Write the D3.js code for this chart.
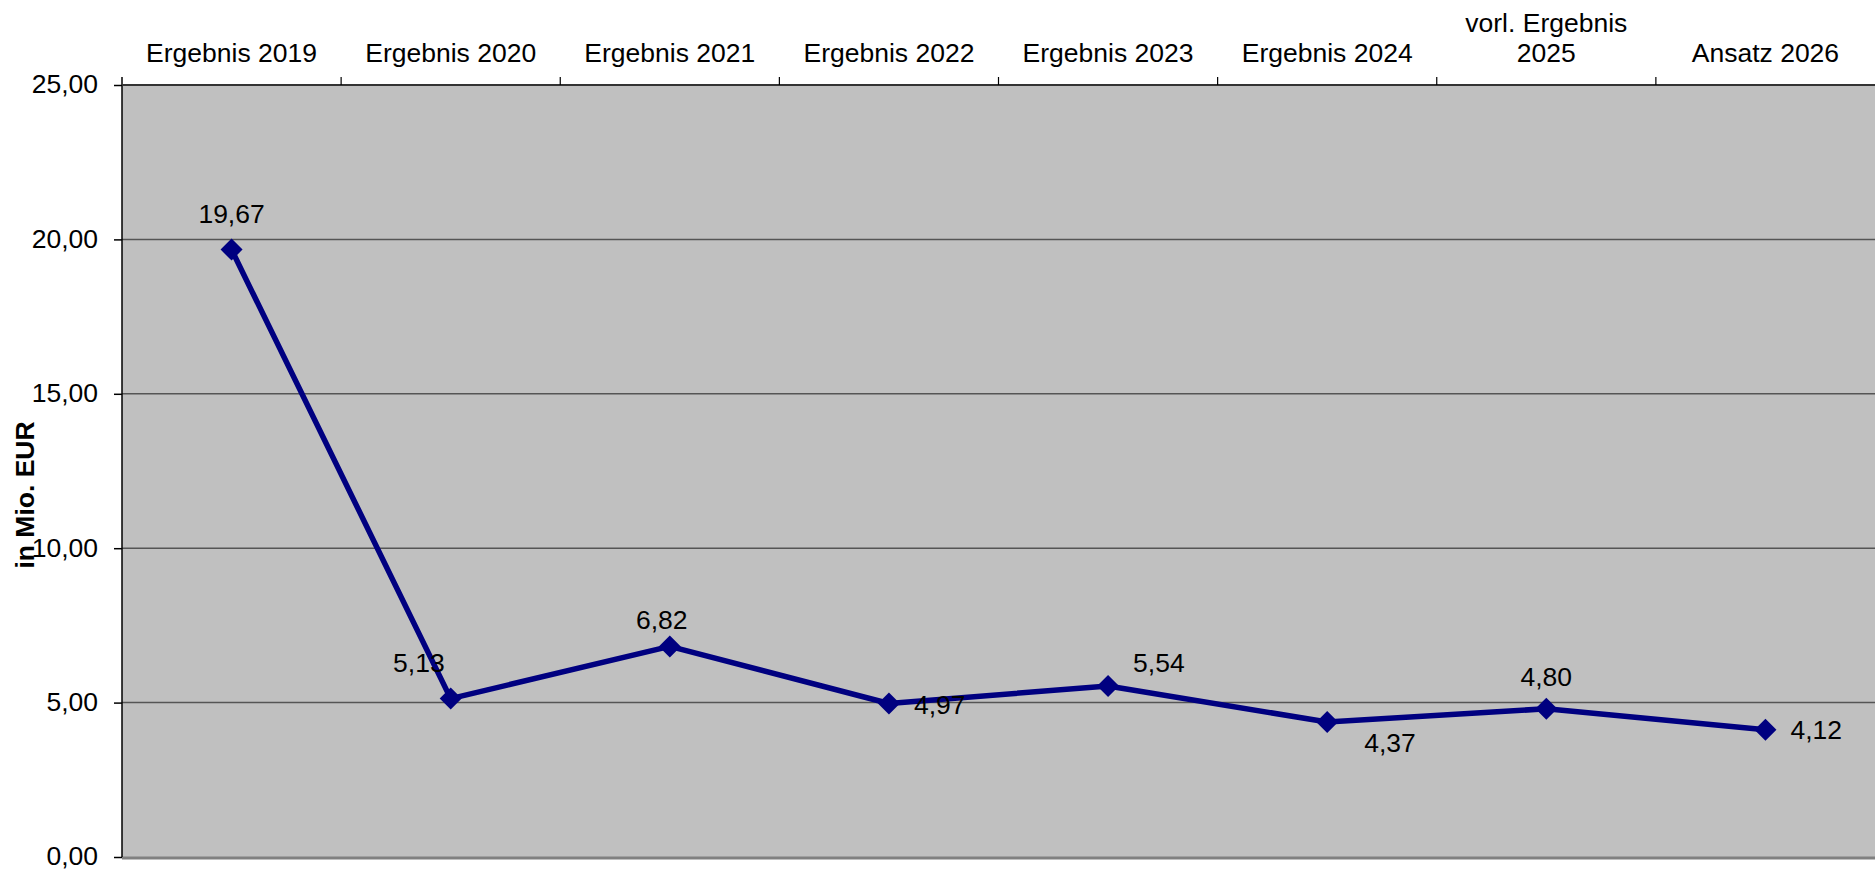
<!DOCTYPE html>
<html>
<head>
<meta charset="utf-8">
<script src="https://d3js.org/d3.v7.min.js"></script>
<style>
  body { margin: 0; background: #fff; }
  svg text { font-family: "Liberation Sans", Arial, sans-serif; }
</style>
</head>
<body>
<div id="chart"></div>
<script>
// Chart data
const categories = [
    ["Ergebnis 2019"], ["Ergebnis 2020"], ["Ergebnis 2021"], ["Ergebnis 2022"],
    ["Ergebnis 2023"], ["Ergebnis 2024"], ["vorl. Ergebnis", "2025"], ["Ansatz 2026"]
];
const values = [19.67, 5.13, 6.82, 4.97, 5.54, 4.37, 4.80, 4.12];
const yTicks = [0, 5, 10, 15, 20, 25];

// Label placement relative to each point: [dx, dy, anchor]
const labelPos = [
    [0, -27, 'middle'], [-6, -27, 'end'], [-8, -17, 'middle'], [25, 10, 'start'],
    [25, -14, 'start'], [37, 30, 'start'], [0, -23, 'middle'], [25, 9, 'start']
];

const width = 1875, height = 870;
const margin = { top: 85, right: 0, bottom: 13, left: 122 };
const fontSize = '26.5px';
const fmt = v => d3.format('.2f')(v).replace('.', ',');

const svg = d3.select('#chart').append('svg')
    .attr('width', width)
    .attr('height', height);

const x = d3.scaleBand()
    .domain(d3.range(categories.length))
    .range([margin.left, width - margin.right]);

const y = d3.scaleLinear()
    .domain([0, 25])
    .range([height - margin.bottom, margin.top]);

// Plot area background
svg.append('rect')
    .attr('x', margin.left)
    .attr('y', margin.top)
    .attr('width', width - margin.left - margin.right)
    .attr('height', y(0) - margin.top)
    .attr('fill', '#c0c0c0');

// Bottom shadow border
svg.append('line')
    .attr('x1', margin.left).attr('x2', width)
    .attr('y1', y(0) + 1).attr('y2', y(0) + 1)
    .attr('stroke', '#808080')
    .attr('stroke-width', 3);

// Gridlines
svg.append('g')
    .selectAll('line')
    .data(yTicks.filter(t => t > 0 && t < 25))
    .join('line')
    .attr('x1', margin.left).attr('x2', width)
    .attr('y1', d => y(d)).attr('y2', d => y(d))
    .attr('stroke', '#555')
    .attr('stroke-width', 1.5);

// Y axis
const yAxis = svg.append('g')
    .attr('transform', `translate(${margin.left},0)`)
    .call(d3.axisLeft(y).tickValues(yTicks).tickSize(8).tickPadding(16).tickFormat(fmt));
yAxis.select('.domain').remove();
yAxis.selectAll('.tick line').attr('stroke', '#000').attr('stroke-width', 1.5);
yAxis.selectAll('.tick text')
    .attr('font-size', fontSize)
    .attr('fill', '#000')
    .attr('dy', '0.3em')
    .attr('font-family', '"Liberation Sans", Arial, sans-serif');

svg.append('line')
    .attr('x1', margin.left).attr('x2', margin.left)
    .attr('y1', margin.top - 8).attr('y2', y(0))
    .attr('stroke', '#000')
    .attr('stroke-width', 1.5);

// Top category axis
svg.append('line')
    .attr('x1', margin.left).attr('x2', width)
    .attr('y1', margin.top).attr('y2', margin.top)
    .attr('stroke', '#333')
    .attr('stroke-width', 2);

svg.append('g')
    .selectAll('line')
    .data(d3.range(1, categories.length))
    .join('line')
    .attr('x1', d => x(d)).attr('x2', d => x(d))
    .attr('y1', margin.top - 8).attr('y2', margin.top)
    .attr('stroke', '#000')
    .attr('stroke-width', 1.2);

const catLabels = svg.append('g')
    .selectAll('text')
    .data(categories)
    .join('text')
    .attr('text-anchor', 'middle')
    .attr('font-size', fontSize)
    .attr('fill', '#000');

catLabels.selectAll('tspan')
    .data((d, i) => d.map((line, j) => ({ line, j, n: d.length, i })))
    .join('tspan')
    .attr('x', d => x(d.i) + x.bandwidth() / 2)
    .attr('y', d => 62 - (d.n - 1 - d.j) * 30)
    .text(d => d.line);

// Y axis title
svg.append('text')
    .attr('transform', 'translate(34,495) rotate(-90)')
    .attr('text-anchor', 'middle')
    .attr('font-size', fontSize)
    .attr('font-weight', 'bold')
    .attr('fill', '#000')
    .text('in Mio. EUR');

// Line
const cx = i => x(i) + x.bandwidth() / 2;
svg.append('path')
    .datum(values)
    .attr('fill', 'none')
    .attr('stroke', '#000080')
    .attr('stroke-width', 5.5)
    .attr('stroke-linejoin', 'round')
    .attr('d', d3.line().x((d, i) => cx(i)).y(d => y(d)));

// Diamond markers
svg.append('g')
    .selectAll('path')
    .data(values)
    .join('path')
    .attr('transform', (d, i) => `translate(${cx(i)},${y(d)})`)
    .attr('d', 'M0,-11L11,0L0,11L-11,0Z')
    .attr('fill', '#000080');

// Data labels
svg.append('g')
    .selectAll('text')
    .data(values)
    .join('text')
    .attr('x', (d, i) => cx(i) + labelPos[i][0])
    .attr('y', (d, i) => y(d) + labelPos[i][1])
    .attr('text-anchor', (d, i) => labelPos[i][2])
    .attr('font-size', fontSize)
    .attr('fill', '#000')
    .text(d => fmt(d));
</script>
</body>
</html>
